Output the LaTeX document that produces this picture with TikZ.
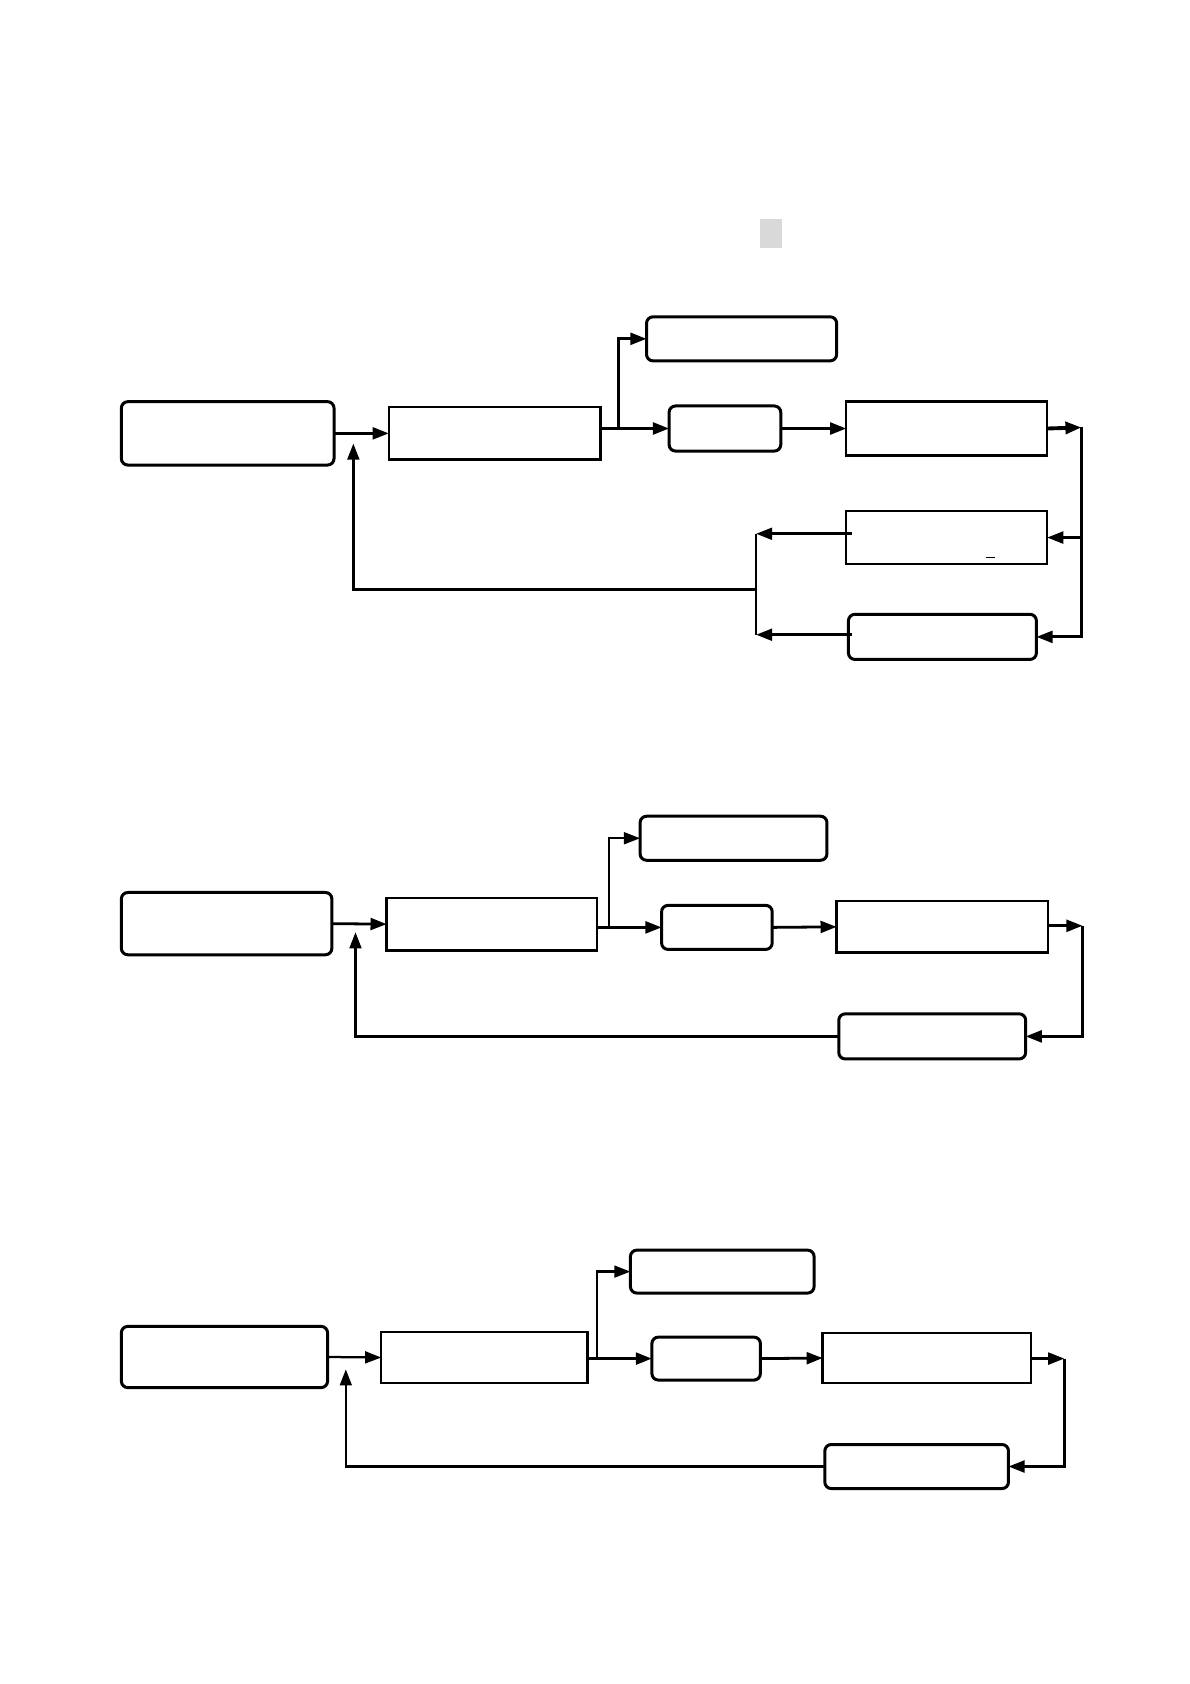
\documentclass[tikz,border=0pt]{standalone}
\usetikzlibrary{arrows.meta,calc}
\tikzset{
  rbox/.style={draw, line width=1.4pt, rounded corners=3pt, inner sep=0pt, outer sep=0pt},
  sbox/.style={draw, line width=1.1pt, inner sep=0pt, outer sep=0pt},
  conn/.style={line width=1.3pt, -{Triangle[length=7.5pt,width=5.5pt]}},
  line/.style={line width=1.2pt},
  thinconn/.style={line width=1.05pt, -{Triangle[length=7.5pt,width=5.5pt]}}}
\begin{document}
\begin{tikzpicture}[x=0.5pt,y=-0.5pt]
\useasboundingbox (0,0) rectangle (1108,1568);
\fill[black!15] (708,204) rectangle (728,231);

% ---------- diagram 1 ----------
\node[rbox, minimum width=99pt, minimum height=29.5pt] (A1) at (212,403.5) {};
\node[sbox, minimum width=98.5pt, minimum height=24.5pt] (B1) at (460.5,403.5) {};
\node[rbox, minimum width=88.5pt, minimum height=20.5pt] (C1) at (690.5,315.5) {};
\node[rbox, minimum width=52pt, minimum height=21pt] (D1) at (675,399) {};
\node[sbox, minimum width=93.5pt, minimum height=25pt] (E1) at (881.5,399) {};
\node[sbox, minimum width=93.5pt, minimum height=24.5pt] (F1) at (881.5,500.5) {};
\node[rbox, minimum width=87.5pt, minimum height=21pt] (G1) at (877.5,593) {};
\draw[line width=0.6pt] (918,519) -- (926,519);
\coordinate (j1) at (576,399);
\coordinate (r1) at (1007,398);
\coordinate (l1t) at (704,497);
\coordinate (l1b) at (704,591);
\coordinate (m1) at (704,549);
\coordinate (f1) at (329,413);
\draw[conn] (A1.east) -- (B1.west);
\draw[conn] (B1.east |- D1.west) -- (D1.west);
\draw[conn] (j1) |- (C1.west);
\draw[conn] (D1.east) -- (E1.west);
\draw[conn, line width=1.8pt] (E1.east) -- (r1);
\draw[line width=1.6pt] (r1) -- (r1 |- F1.east);
\draw[conn] (r1 |- F1.east) -- (F1.east);
\draw[conn] (r1 |- F1.east) |- (G1.east);
\draw[conn] ($(F1.west)+(5,-3.5)$) -- (l1t);
\draw[conn] ($(G1.west)+(3,-2)$) -- (l1b);
\draw[line] (l1t) -- (l1b);
\draw[conn, line width=1.2pt] (m1) -| (f1);

% ---------- diagram 2 ----------
\node[rbox, minimum width=98pt, minimum height=29pt] (A2) at (211,860) {};
\node[sbox, minimum width=98pt, minimum height=24.5pt] (B2) at (458,860.5) {};
\node[rbox, minimum width=87pt, minimum height=20.5pt] (C2) at (683,780.5) {};
\node[rbox, minimum width=51.5pt, minimum height=20.5pt] (D2) at (667.5,863.5) {};
\node[sbox, minimum width=98.5pt, minimum height=24pt] (E2) at (877.5,863) {};
\node[rbox, minimum width=87pt, minimum height=21pt] (G2) at (868,965) {};
\coordinate (j2) at (567,863.5);
\coordinate (r2) at (1008,862);
\coordinate (f2) at (331,868);
\draw[conn] (A2.east) -- (B2.west);
\draw[conn] (B2.east |- D2.west) -- (D2.west);
\draw[thinconn] (j2) |- (C2.west);
\draw[conn] (D2.east) -- (E2.west);
\draw[conn] (E2.east |- r2) -- (r2);
\draw[conn] (r2) |- (G2.east);
\draw[thinconn] (G2.west) -| (f2);

% ---------- diagram 3 ----------
\node[rbox, minimum width=96pt, minimum height=28.5pt] (A3) at (209,1263.5) {};
\node[sbox, minimum width=96pt, minimum height=24pt] (B3) at (451,1264) {};
\node[rbox, minimum width=85.5pt, minimum height=20pt] (C3) at (672.5,1184) {};
\node[rbox, minimum width=50.5pt, minimum height=20pt] (D3) at (657.5,1265) {};
\node[sbox, minimum width=97pt, minimum height=23.5pt] (E3) at (863,1264.5) {};
\node[rbox, minimum width=85.5pt, minimum height=20.5pt] (G3) at (853.5,1365.5) {};
\coordinate (j3) at (556,1265);
\coordinate (r3) at (991,1265);
\coordinate (f3) at (322,1275);
\draw[thinconn] (A3.east) -- (B3.west);
\draw[conn] (B3.east |- D3.west) -- (D3.west);
\draw[thinconn] (j3) |- (C3.west);
\draw[conn] (D3.east) -- (E3.west);
\draw[conn] (E3.east |- r3) -- (r3);
\draw[conn] (r3) |- (G3.east);
\draw[thinconn] (G3.west) -| (f3);
\end{tikzpicture}
\end{document}
